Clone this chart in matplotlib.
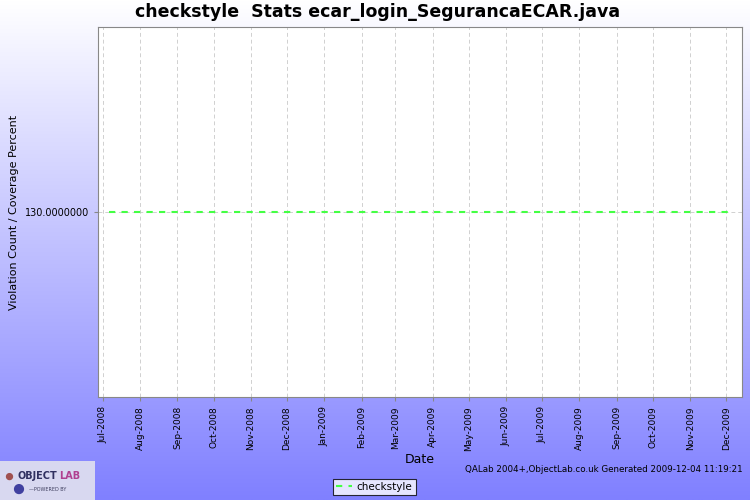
import matplotlib

matplotlib.use("Agg")
import matplotlib.pyplot as plt
import matplotlib.dates as mdates
import numpy as np
from datetime import datetime

# data
dates = [datetime(2008, 7, 6), datetime(2009, 12, 4)]
violations = [130, 130]
series_name = "checkstyle"
title = "checkstyle  Stats ecar_login_SegurancaECAR.java"
footer = "QALab 2004+,ObjectLab.co.uk Generated 2009-12-04 11:19:21"

fig = plt.figure(figsize=(7.5, 5), dpi=100)

# background gradient, white at the top to blue at the bottom
bg = fig.add_axes([0, 0, 1, 1], zorder=-10)
t = np.linspace(0, 1, 256).reshape(-1, 1)
top = np.array([1.0, 1.0, 1.0])
bottom = np.array([128, 128, 255]) / 255.0
grad = top * (1 - t[..., None]) + bottom * t[..., None]
grad = np.repeat(grad, 2, axis=1)
bg.imshow(grad, aspect="auto", extent=[0, 1, 0, 1], origin="upper")
bg.set_axis_off()

ax = fig.add_axes([98 / 750, 1 - 397 / 500, (742 - 98) / 750, (397 - 27) / 500])
ax.set_facecolor("white")
ax.plot(dates, violations, color="#44ff44", linestyle=(0, (3, 3)), linewidth=1.5,
        label=series_name)

ax.set_xlim(datetime(2008, 6, 27), datetime(2009, 12, 14))
ax.set_ylim(129.0, 131.0)
ax.set_yticks([130])
ax.set_yticklabels(["130.0000000"], fontsize=7)

ax.xaxis.set_major_locator(mdates.MonthLocator())
ax.xaxis.set_major_formatter(mdates.DateFormatter("%b-%Y"))
plt.setp(ax.get_xticklabels(), rotation=90, fontsize=6.5)
ax.tick_params(axis="both", length=3, color="#888888")

ax.grid(True, color="#d0d0d0", linestyle=(0, (4, 3)), linewidth=0.7)
for side in ax.spines.values():
    side.set_color("#888888")

ax.set_ylabel("Violation Count / Coverage Percent", fontsize=8, labelpad=4)
ax.set_xlabel("Date", fontsize=9, labelpad=2)

fig.text(0.504, 0.976, title, ha="center", va="center", fontsize=12.5, fontweight="bold")
fig.text(0.99, 0.062, footer, ha="right", va="center", fontsize=6.3)

leg = fig.legend(loc="center", bbox_to_anchor=(0.499, 0.026), fontsize=7.5,
                 frameon=True, fancybox=False, edgecolor="black", handlelength=1.5,
                 borderpad=0.3, handletextpad=0.5)
leg.get_frame().set_linewidth(0.8)

# logo box
logo = fig.add_axes([0, 0, 95 / 750, 39 / 500])
logo.set_facecolor("#d8d8f0")
logo.set_xticks([])
logo.set_yticks([])
for side in logo.spines.values():
    side.set_visible(False)
logo.text(0.18, 0.62, "OBJECT", color="#303060", fontsize=7, fontweight="bold",
          ha="left", va="center", transform=logo.transAxes)
logo.text(0.62, 0.62, "LAB", color="#b04090", fontsize=7, fontweight="bold",
          ha="left", va="center", transform=logo.transAxes)
logo.text(0.3, 0.28, "—POWERED BY", color="#404060", fontsize=3.5,
          ha="left", va="center", transform=logo.transAxes)
logo.scatter([0.1, 0.2], [0.6, 0.28], s=[18, 40], color=["#a05050", "#4040a0"],
             transform=logo.transAxes)

fig.savefig("out.png", dpi=100)
